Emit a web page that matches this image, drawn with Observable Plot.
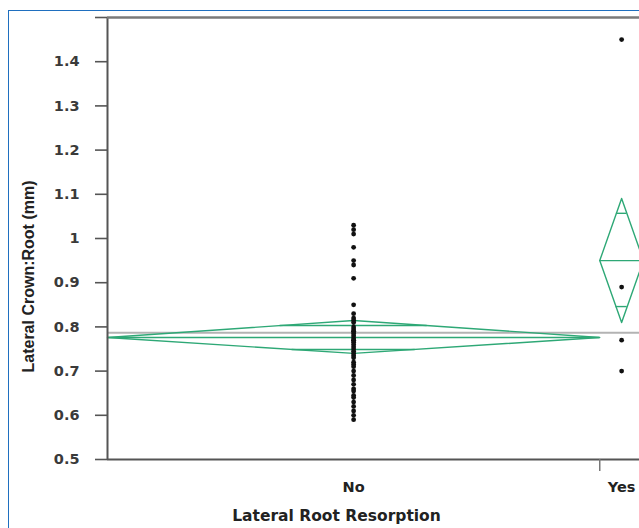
<!DOCTYPE html>
<html><head><meta charset="utf-8">
<script src="https://cdn.jsdelivr.net/npm/d3@7"></script>
<script src="https://cdn.jsdelivr.net/npm/@observablehq/plot@0.6"></script>
<style>
html,body{margin:0;padding:0;background:#fff;overflow:hidden;width:639px;height:528px;}
#chart{position:absolute;left:0;top:0;width:660px;height:528px;}
#chart svg{max-width:none !important;width:660px;height:528px;}
#frame{position:absolute;left:8px;top:10px;width:800px;height:700px;border-left:1.5px solid #1f6fbf;border-top:1.5px solid #1f6fbf;pointer-events:none;}
</style></head>
<body><div id="chart"></div><div id="frame"></div>
<script>
// ---- data ----
const categories = ["No", "Yes"];
const groupCounts = [45, 4]; // group widths (sample sizes)
const noValues = [1.03, 1.02, 1.01, 0.98, 0.95, 0.94, 0.91, 0.85, 0.83,
  0.82, 0.815, 0.81, 0.80, 0.795, 0.79, 0.79, 0.785, 0.78, 0.775, 0.77, 0.77, 0.765, 0.76, 0.755, 0.75, 0.745, 0.74, 0.735, 0.73, 0.72, 0.715, 0.71,
  0.70, 0.69, 0.68, 0.67, 0.66, 0.655, 0.645, 0.64, 0.63, 0.62, 0.61, 0.60, 0.59];
const yesValues = [1.45, 0.89, 0.77, 0.70];
const groupMeans = [0.776, 0.950];
const ciLow = [0.740, 0.810];
const ciHigh = [0.8145, 1.0905];
const overlapLow = [0.749, 0.846];
const overlapHigh = [0.803, 1.057];
const grandMean = 0.787;
const yTicks = [0.5, 0.6, 0.7, 0.8, 0.9, 1, 1.1, 1.2, 1.3, 1.4];
const yTop = 1.5;

// ---- derived tables ----
const total = d3.sum(groupCounts);
let acc = 0;
const groups = categories.map((c, i) => {
  const start = acc; acc += groupCounts[i];
  return {name: c, start, end: acc, center: (start + acc) / 2, mean: groupMeans[i], lo: ciLow[i], hi: ciHigh[i], olo: overlapLow[i], ohi: overlapHigh[i]};
});
const centers = groups.map(g => g.center);
const valuesBy = [noValues, yesValues];
const points = groups.flatMap((g, i) => valuesBy[i].map(v => ({x: g.center, v})));
const diamondPts = groups.flatMap(g => [
  {g: g.name, x: g.start, y: g.mean},
  {g: g.name, x: g.center, y: g.hi},
  {g: g.name, x: g.end, y: g.mean},
  {g: g.name, x: g.center, y: g.lo},
  {g: g.name, x: g.start, y: g.mean}
]);
const overlaps = groups.flatMap(g => {
  const hw = (g.end - g.start) / 2;
  return [[g.ohi, g.hi], [g.olo, g.lo]].map(([v, tip]) => {
    const f = 1 - (v - g.mean) / (tip - g.mean);
    return {y: v, x1: g.center - hw * f, x2: g.center + hw * f};
  });
});

const green = "#2ea876";
const plot = Plot.plot({
  width: 660, height: 528,
  marginLeft: 107, marginRight: 17, marginTop: 17, marginBottom: 69,
  style: {background: "transparent", overflow: "visible", maxWidth: "none"},
  x: {domain: [0, total], axis: null},
  y: {domain: [0.5, yTop], axis: null},
  marks: [
    Plot.ruleY([grandMean], {stroke: "#b3b3b3", strokeWidth: 2}),
    Plot.line(diamondPts, {x: "x", y: "y", z: "g", stroke: green, strokeWidth: 1.4}),
    Plot.ruleY(groups, {y: "mean", x1: "start", x2: "end", stroke: green, strokeWidth: 1.4}),
    Plot.ruleY(overlaps, {y: "y", x1: "x1", x2: "x2", stroke: green, strokeWidth: 1.4}),
    Plot.dot(points, {x: "x", y: "v", r: 2.4, fill: "#111", stroke: null}),
    Plot.ruleX([0], {stroke: "#555", strokeWidth: 2}),
    Plot.ruleY([0.5], {stroke: "#555", strokeWidth: 2}),
    Plot.ruleY([yTop], {stroke: "#7a7a7a", strokeWidth: 2.5}),
    Plot.axisY({ticks: yTicks.concat([yTop]), tickSize: 12, tickPadding: 16,
      tickFormat: d => d === yTop ? "" : String(d),
      stroke: "#555", strokeWidth: 1.6, fill: "#3a3a3a",
      fontSize: 14.5, fontWeight: "bold", fontFamily: "DejaVu Sans", label: null}),
    Plot.axisX({ticks: [groups[0].end, groups[1].end], tickSize: 12, tickFormat: () => "",
      stroke: "#777", strokeWidth: 1.5, label: null}),
    Plot.axisX({ticks: centers, tickSize: 0, tickPadding: 22,
      tickFormat: d => categories[centers.indexOf(d)],
      fill: "#222", fontSize: 14.5, fontWeight: "bold", fontFamily: "DejaVu Sans", label: null}),
    Plot.text(["Lateral Crown:Root (mm)"], {frameAnchor: "left", text: d => d, rotate: -90, dx: -79, dy: 38,
      textAnchor: "middle", lineAnchor: "middle", fontSize: 16, fontWeight: "bold",
      fontFamily: "Liberation Sans, Arial, sans-serif", fill: "#222"}),
    Plot.text(["Lateral Root Resorption"], {frameAnchor: "bottom", text: d => d, dx: -39, dy: 57,
      textAnchor: "middle", lineAnchor: "middle", fontSize: 15.5, fontWeight: "bold",
      fontFamily: "DejaVu Sans", fill: "#222"})
  ]
});
document.getElementById("chart").appendChild(plot);
</script>
</body></html>
